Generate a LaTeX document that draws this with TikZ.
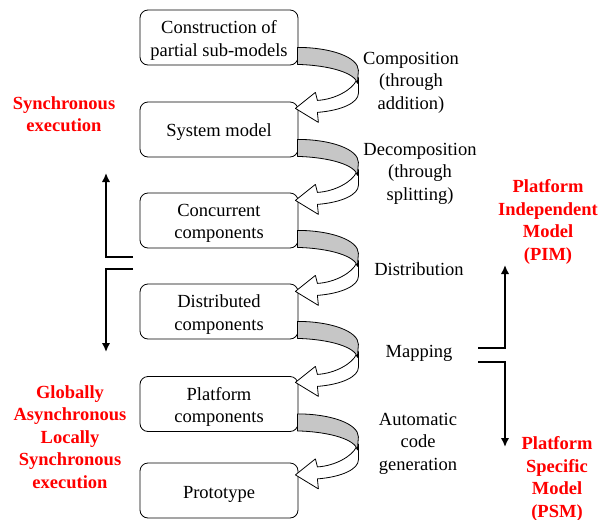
\documentclass[tikz,border=0pt]{standalone}
\usepackage{fontspec}
\setmainfont{Liberation Serif}
\usetikzlibrary{arrows.meta,calc}
\tikzset{
  box/.style={draw, rounded corners=8pt, minimum width=158pt, minimum height=55pt,
    line width=0.8pt, inner sep=0pt},
  lab/.style={align=center, inner sep=0pt, font=\fontsize{18.5}{22.5}\selectfont},
  redlab/.style={align=center, inner sep=0pt, text=red, font=\fontsize{18.5}{22.5}\selectfont\bfseries},
  bracket/.style={line width=2.6pt, -{Latex[length=9pt,width=8.5pt]}},
  carrow/.pic={
    \filldraw[fill=white, line width=0.8pt, line join=round]
      (61,30) -- (61,46) .. controls (61,55) and (45,63) .. (20,65) -- (21,75) -- (-2,61)
      -- (18,45) -- (20,53) .. controls (38,52) and (55,42) .. (59,33);
    \filldraw[fill=gray!45, line width=0.8pt, line join=round]
      (0,0) .. controls (34,0) and (61,10) .. (61,23) -- (60,36)
      .. controls (58,26) and (34,18) .. (0,17) -- cycle;
  }
}
\begin{document}
\begin{tikzpicture}[x=1pt,y=-1pt]
\useasboundingbox (0,0) rectangle (598,520);
% boxes
\node[box] (b1) at (219,37.5) {};
\node[box] (b2) at (219,129.5) {};
\node[box] (b3) at (219,220.5) {};
\node[box] (b4) at (219,311.5) {};
\node[box] (b5) at (219,404) {};
\node[box] (b6) at (219,490.5) {};
\node[lab] (t1) at ($(b1.center)+(0,3)$) {Construction of\\partial sub-models};
\node[lab] (t2) at ($(b2.center)+(0,3)$) {System model};
\node[lab] (t3) at ($(b3.center)+(0,3)$) {Concurrent\\components};
\node[lab] (t4) at ($(b4.center)+(0,3)$) {Distributed\\components};
\node[lab] (t5) at ($(b5.center)+(0,3)$) {Platform\\components};
\node[lab] (t6) at ($(b6.center)+(0,3.5)$) {Prototype};
% curved arrows
\foreach \b in {b1,b2,b3,b4,b5}{
  \pic at ($(\b.south east)+(-1,-18)$) {carrow};
}
% right labels
\node[lab] (l1) at (411,82.5) {Composition\\(through\\addition)};
\node[lab] (l2) at (420,173.5) {Decomposition\\(through\\splitting)};
\node[lab] (l3) at (419,269) {Distribution};
\node[lab] (l4) at (419,353) {Mapping};
\node[lab] (l5) at (418,443.5) {Automatic\\code\\generation};
% red labels
\node[redlab] (r1) at (64,114) {Synchronous\\execution};
\node[redlab] (r2) at (70,437) {Globally\\Asynchronous\\Locally\\Synchronous\\execution};
\node[redlab] (r3) at (548,222) {Platform\\Independent\\Model\\(PIM)};
\node[redlab] (r4) at (557,479) {Platform\\Specific\\Model\\(PSM)};
% bracket arrows left
\coordinate (la1) at (133,257);
\coordinate (la2) at (106,257);
\coordinate (la3) at (106,173);
\coordinate (lb1) at (133,269);
\coordinate (lb2) at (106,269);
\coordinate (lb3) at (106,352);
\draw[bracket] (la1) -- (la2) -- (la3);
\draw[bracket] (lb1) -- (lb2) -- (lb3);
% bracket arrows right
\coordinate (ra1) at (478,348);
\coordinate (ra2) at (505,348);
\coordinate (ra3) at (505,265);
\coordinate (rb1) at (478,362);
\coordinate (rb2) at (505,362);
\coordinate (rb3) at (505,447);
\draw[bracket] (ra1) -- (ra2) -- (ra3);
\draw[bracket] (rb1) -- (rb2) -- (rb3);
\end{tikzpicture}
\end{document}
